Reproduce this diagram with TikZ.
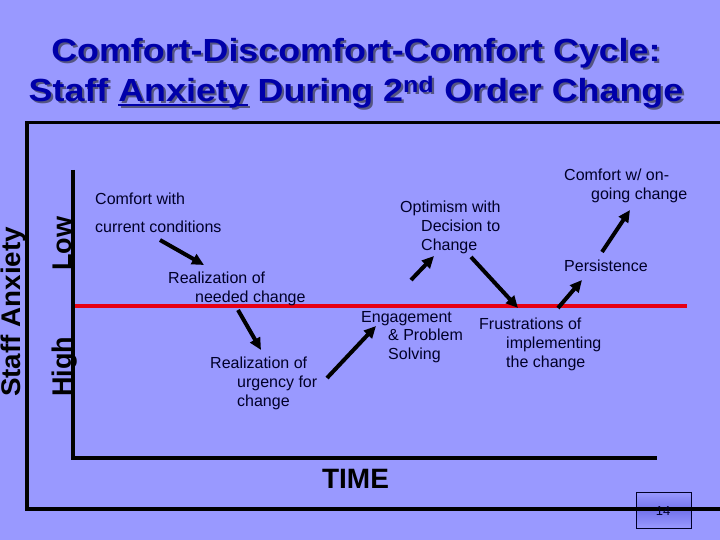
\documentclass[tikz,border=0pt]{standalone}
\usepackage{fontspec}
\setmainfont{Liberation Sans}
\usetikzlibrary{arrows.meta}
\definecolor{bg}{RGB}{153,153,255}
\definecolor{ttlblue}{RGB}{0,0,170}
\definecolor{ttlshadow}{RGB}{85,85,130}
\definecolor{ink}{RGB}{0,0,40}
\definecolor{redline}{RGB}{230,0,20}
\definecolor{boxmid}{RGB}{115,115,235}
\newlength{\ulwd}
\newcommand{\thickul}[1]{\settowidth{\ulwd}{#1}\makebox[0pt][l]{\rule[-4.5pt]{\ulwd}{2.6pt}}#1}
\newcommand{\shadowed}[1]{\makebox[0pt][l]{\hspace{2pt}\raisebox{-2pt}{\color{ttlshadow}#1}}#1}
\tikzset{
  lbl/.style={anchor=base west, inner sep=0pt, text=ink, font=\fontsize{16}{19}\selectfont},
  axlbl/.style={rotate=90, anchor=base, inner sep=0pt, text=black, font=\fontsize{27}{30}\selectfont\bfseries},
  ttl/.style={anchor=base, inner sep=0pt, text=ttlblue, font=\fontsize{32}{38}\selectfont\bfseries},
  arr/.style={line width=4pt, -{Triangle[length=12pt,width=11pt]}, black},
  frame/.style={line width=3.5pt, black},
}
\begin{document}
\begin{tikzpicture}[x=1pt,y=-1pt]
\fill[bg] (0,0) rectangle (720,540);
\useasboundingbox (0,0) rectangle (720,540);
% title with shadow
\node[ttl] (t1) at (356,62) {\scalebox{1.12}[1]{\shadowed{Comfort-Discomfort-Comfort Cycle:}}};
\node[ttl] (t2) at (356,102) {\scalebox{1.12}[1]{\shadowed{Staff \thickul{Anxiety} During 2\textsuperscript{nd} Order Change}}};
% page number box
\shade[top color=bg, bottom color=bg, middle color=boxmid] (636,492) rectangle (691,528);
\draw[ink, line width=0.8pt] (636,492) rectangle (691,528);
% outer frame
\draw[frame] (721,122.5) -- (27,122.5) -- (27,509) -- (721,509);
\node[inner sep=0pt, text=ink, font=\fontsize{13}{15}\selectfont] (pg) at (663,511) {14};
% inner axes
\draw[line width=4.5pt, black] (73,170) -- (73,458) -- (657,458);
\draw[line width=3.5pt, redline] (75,306) -- (687,306);
% axis labels
\node[axlbl] (sa) at (20,312) {\scalebox{1.03}[1]{Staff Anxiety}};
\node[axlbl] (low) at (71,244) {Low};
\node[axlbl] (high) at (71,367) {High};
\node[anchor=base, inner sep=0pt, font=\fontsize{28}{30}\selectfont\bfseries] (time) at (355.5,488) {TIME};
% labels
\node[lbl] (c1) at (95,205) {Comfort with};
\node[lbl] (c2) at (95,233) {current conditions};
\node[lbl] (r1) at (168,283) {Realization of};
\node[lbl] (r2) at (195,302) {needed change};
\node[lbl] (u1) at (210,368) {Realization of};
\node[lbl] (u2) at (237,387) {urgency for};
\node[lbl] (u3) at (237,406) {change};
\node[lbl] (e1) at (361,322) {Engagement};
\node[lbl] (e2) at (388,340) {\& Problem};
\node[lbl] (e3) at (388,359) {Solving};
\node[lbl] (o1) at (400,213) {Optimism with};
\node[lbl] (o2) at (421,232) {Decision to};
\node[lbl] (o3) at (421,250) {Change};
\node[lbl] (f1) at (479,329) {Frustrations of};
\node[lbl] (f2) at (506,348) {implementing};
\node[lbl] (f3) at (506,367) {the change};
\node[lbl] (p1) at (564,271) {Persistence};
\node[lbl] (g1) at (564,181) {Comfort w/ on-};
\node[lbl] (g2) at (591,200) {going change};
% arrows
\coordinate (a1s) at (160,240); \coordinate (a1e) at (204,265);
\coordinate (a2s) at (238,310); \coordinate (a2e) at (261,350);
\coordinate (a3s) at (327,378); \coordinate (a3e) at (376,326);
\coordinate (a4s) at (411,280); \coordinate (a4e) at (434,256);
\coordinate (a5s) at (471,257); \coordinate (a5e) at (518,308);
\coordinate (a6s) at (558,308); \coordinate (a6e) at (582,280);
\coordinate (a7s) at (602,252); \coordinate (a7e) at (630,210);
\draw[arr] (a1s) -- (a1e);
\draw[arr] (a2s) -- (a2e);
\draw[arr] (a3s) -- (a3e);
\draw[arr] (a4s) -- (a4e);
\draw[arr] (a5s) -- (a5e);
\draw[arr] (a6s) -- (a6e);
\draw[arr] (a7s) -- (a7e);
\end{tikzpicture}
\end{document}
